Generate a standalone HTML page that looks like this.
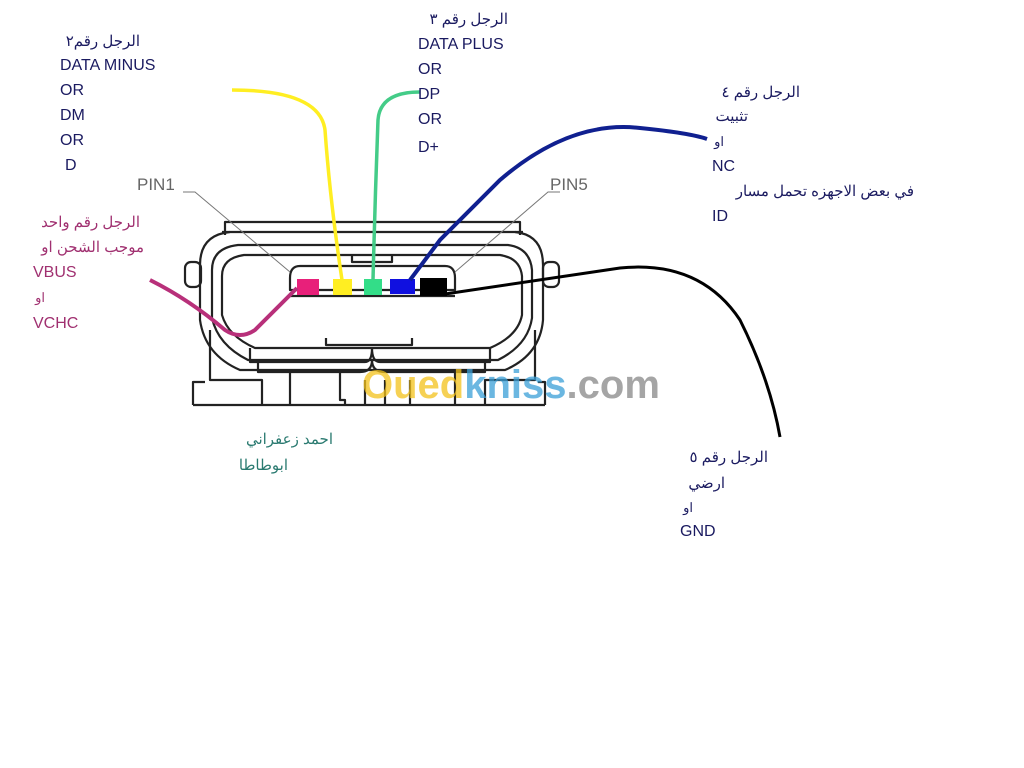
<!DOCTYPE html>
<html><head><meta charset="utf-8"><style>
html,body{margin:0;padding:0;background:#fff;}
svg{display:block}
text{font-family:"Liberation Sans","Noto Sans CJK SC",sans-serif;}
</style></head><body>
<svg width="1024" height="768" viewBox="0 0 1024 768" xmlns="http://www.w3.org/2000/svg" font-size="16">
<rect width="1024" height="768" fill="#fff"/>
<g fill="none" stroke="#222" stroke-width="2.2" stroke-linejoin="round">
  <path d="M225,235 L225,222 L520,222 L520,235"/>
  <line x1="222" y1="232" x2="523" y2="232"/>
  <path d="M230,232 Q200,235 200,265 L200,320 Q205,355 240,370 L505,370 Q540,355 543,320 L543,265 Q543,235 515,232"/>
  <path d="M238,245 Q212,248 212,270 L212,318 Q218,345 248,360 L498,360 Q528,345 532,318 L532,270 Q530,248 508,245 Z"/>
  <path d="M244,255 Q222,258 222,276 L222,315 Q228,336 255,348 L490,348 Q518,336 522,315 L522,276 Q520,258 500,255 Z"/>
  <path d="M300,266 L445,266 Q455,266 455,278 L455,290 L290,290 L290,278 Q290,266 300,266 Z"/>
  <line x1="290" y1="296" x2="455" y2="296"/>
  <path d="M352,255 L352,262 L392,262 L392,255"/>
  <rect x="185" y="262" width="16" height="25" rx="6"/>
  <rect x="543" y="262" width="16" height="25" rx="6"/>
  <path d="M250,348 L250,362 L365,362 Q372,362 372,348"/>
  <path d="M372,348 Q372,362 380,362 L490,362 L490,348"/>
  <path d="M258,362 L258,372 L360,372 Q372,372 372,360 Q372,372 385,372 L485,372 L485,362"/>
  <path d="M326,338 L326,345 L412,345 L412,338"/>
  <path d="M210,330 L210,380 L262,380 L262,405"/>
  <path d="M535,330 L535,380 L485,380 L485,405"/>
  <path d="M193,405 L193,382 L205,382"/>
  <path d="M545,405 L545,382 L538,382"/>
  <line x1="193" y1="405" x2="545" y2="405"/>
  <path d="M290,372 L290,405 M340,372 L340,400 L345,400 L345,405 M365,380 L365,405 M385,380 L385,405 M410,380 L410,405 M455,372 L455,405"/>
</g>
<g stroke="#777" stroke-width="1" fill="none">
  <path d="M183,192 L195,192 L290,272"/>
  <path d="M560,192 L548,192 L455,272"/>
</g>
<text x="137" y="190" fill="#666" font-size="17">PIN1</text>
<text x="550" y="190" fill="#666" font-size="17">PIN5</text>
<rect x="297" y="279" width="22" height="16" fill="#e8207a"/>
<rect x="333" y="279" width="19" height="16" fill="#ffee22"/>
<rect x="364" y="279" width="18" height="16" fill="#33dd88"/>
<rect x="390" y="279" width="25" height="15" fill="#1010e0"/>
<rect x="420" y="278" width="27" height="18" fill="#000"/>
<path d="M297,288 Q275,310 255,330 Q240,340 225,330 Q190,300 150,280" fill="none" stroke="#b8307a" stroke-width="4"/>
<path d="M342,280 Q330,200 325,130 Q320,90 232,90" fill="none" stroke="#ffee22" stroke-width="3.5"/>
<path d="M373,280 Q375,200 378,120 Q380,92 420,92" fill="none" stroke="#44cc88" stroke-width="3.5"/>
<path d="M410,280 L440,240 L500,180 Q570,120 640,128 Q690,133 707,139" fill="none" stroke="#102090" stroke-width="4"/>
<path d="M445,294 Q540,280 620,268 Q700,260 740,320 Q770,380 780,437" fill="none" stroke="#000" stroke-width="3"/>
<g font-weight="bold" font-size="40" opacity="0.75">
  <text x="362" y="398" fill="#f4c21c">Oued<tspan fill="#3aa0d8">kniss</tspan><tspan fill="#888">.com</tspan></text>
</g>
<g fill="#1a1a60">
  <text x="140" y="46" font-size="15" text-anchor="end">الرجل رقم٢</text>
  <text x="60" y="70">DATA MINUS</text>
  <text x="60" y="95">OR</text>
  <text x="60" y="120">DM</text>
  <text x="60" y="145">OR</text>
  <text x="65" y="170">D</text>
  <text x="508" y="24" font-size="15" text-anchor="end">الرجل رقم ٣</text>
  <text x="418" y="49">DATA PLUS</text>
  <text x="418" y="74">OR</text>
  <text x="418" y="99">DP</text>
  <text x="418" y="124">OR</text>
  <text x="418" y="152">D+</text>
  <text x="800" y="97" font-size="15" text-anchor="end">الرجل رقم ٤</text>
  <text x="748" y="121" font-size="15" text-anchor="end">تثبيت</text>
  <text x="724" y="146" font-size="13" text-anchor="end">او</text>
  <text x="712" y="171">NC</text>
  <text x="914" y="196" font-size="15" text-anchor="end">في بعض الاجهزه تحمل مسار</text>
  <text x="712" y="221">ID</text>
  <text x="768" y="462" font-size="15" text-anchor="end">الرجل رقم ٥</text>
  <text x="725" y="488" font-size="15" text-anchor="end">ارضي</text>
  <text x="693" y="512" font-size="13" text-anchor="end">او</text>
  <text x="680" y="536">GND</text>
</g>
<g fill="#a03070">
  <text x="140" y="227" font-size="15" text-anchor="end">الرجل رقم واحد</text>
  <text x="144" y="252" font-size="15" text-anchor="end">موجب الشحن او</text>
  <text x="33" y="277">VBUS</text>
  <text x="45" y="302" font-size="13" text-anchor="end">او</text>
  <text x="33" y="328">VCHC</text>
</g>
<g fill="#2a7a70">
  <text x="333" y="444" font-size="15" text-anchor="end">احمد زعفراني</text>
  <text x="288" y="470" font-size="15" text-anchor="end">ابوطاطا</text>
</g>
</svg>
</body></html>
